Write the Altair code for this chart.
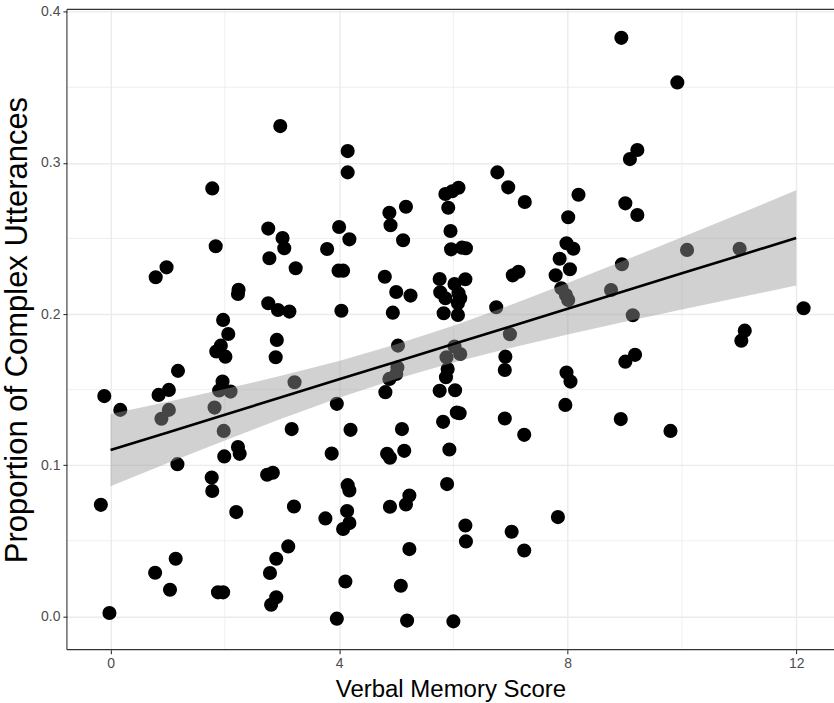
import altair as alt
import pandas as pd

# Jittered observations (verbal memory score, proportion of complex utterances)
xs = [2.97, 1.78, 2.76, 3.01, 3.04, 2.78, 3.24, 1.84, 0.98, 0.79, 2.24, 2.23, 2.76, 2.93, 3.13, 1.97,
      4.15, 4.15, 6.77, 6.96, 7.25, 5.86, 5.98, 6.09, 5.91, 5.17, 4.88, 4.90, 5.12, 5.95, 5.96, 6.15,
      6.22, 4.00, 4.18, 3.79, 3.99, 4.07, 4.04, 4.80, 5.00, 5.25, 4.94, 5.76, 6.02, 6.21, 5.77, 5.86,
      6.09, 6.12, 6.08, 5.83, 6.08, 6.75, 7.04, 7.14, 7.86, 7.79, 8.94, 9.92, 9.22, 9.09, 8.19, 9.01,
      9.22, 8.01, 7.98, 8.10, 8.04, 8.95, 7.89, 7.97, 8.01, 8.76, 10.09, 11.01, 9.14, 12.13, 11.10, 11.04,
      7.98, 8.05, 9.18, 9.01, 7.96, 8.93, 9.80, 7.83, 6.99, 5.03, 6.02, 6.12, 5.88, 5.02, 5.00, 4.88,
      5.90, 5.87, 6.91, 6.90, 4.81, 5.76, 6.03, 3.96, 6.06, 6.11, 5.82, 6.90, 7.24, 4.20, 5.10, 3.87,
      4.84, 4.89, 5.14, 5.93, 4.15, 4.18, 5.89, 3.76, 4.14, 4.18, 4.07, 4.89, 5.17, 5.23, 6.21, 6.22,
      7.02, 7.24, 5.23, 4.11, 5.08, 3.96, 5.19, 6.00, 2.06, 1.93, 1.85, 2.01, 2.91, 2.89, 1.18, 0.84,
      1.02, -0.11, 0.17, 1.02, 0.89, 1.96, 1.90, 2.10, 1.82, 1.98, 3.22, 3.17, 2.23, 2.26, 1.99, 1.17,
      2.74, 2.84, 1.77, 1.78, -0.17, 2.20, 3.21, 3.11, 2.90, 2.79, 2.90, 2.81, 1.14, 0.78, 1.04, 1.88,
      1.97, -0.02]
ys = [0.3243, 0.2831, 0.2565, 0.2503, 0.2435, 0.2369, 0.2303, 0.2448, 0.2309, 0.2243, 0.2161, 0.2133, 0.2071, 0.2027, 0.2016, 0.1961,
      0.3078, 0.2937, 0.2937, 0.2838, 0.2741, 0.2794, 0.2812, 0.2835, 0.2703, 0.2710, 0.2670, 0.2587, 0.2488, 0.2549, 0.2428, 0.2439,
      0.2435, 0.2576, 0.2494, 0.2430, 0.2287, 0.2287, 0.2022, 0.2247, 0.2146, 0.2122, 0.2009, 0.2232, 0.2199, 0.2230, 0.2144, 0.2104,
      0.2137, 0.2104, 0.2071, 0.2005, 0.1994, 0.2045, 0.2256, 0.2280, 0.2366, 0.2256, 0.3827, 0.3532, 0.3085, 0.3025, 0.2789, 0.2732,
      0.2655, 0.2640, 0.2468, 0.2432, 0.2296, 0.2329, 0.2170, 0.2126, 0.2093, 0.2159, 0.2424, 0.2432, 0.1992, 0.2038, 0.1890, 0.1824,
      0.1613, 0.1553, 0.1730, 0.1685, 0.1399, 0.1305, 0.1227, 0.0657, 0.1866, 0.1791, 0.1785, 0.1736, 0.1714, 0.1646, 0.1604, 0.1571,
      0.1637, 0.1582, 0.1718, 0.1630, 0.1483, 0.1492, 0.1496, 0.1406, 0.1348, 0.1344, 0.1287, 0.1309, 0.1201, 0.1234, 0.1239, 0.1077,
      0.1075, 0.1049, 0.1095, 0.1104, 0.0868, 0.0833, 0.0875, 0.0648, 0.0697, 0.0617, 0.0578, 0.0725, 0.0740, 0.0800, 0.0601, 0.0496,
      0.0560, 0.0436, 0.0445, 0.0231, 0.0203, -0.0015, -0.0028, -0.0033, 0.1868, 0.1791, 0.1752, 0.1718, 0.1829, 0.1714, 0.1624, 0.1465,
      0.1498, 0.1457, 0.1366, 0.1366, 0.1307, 0.1553, 0.1494, 0.1487, 0.1381, 0.1227, 0.1549, 0.1239, 0.1120, 0.1075, 0.1058, 0.1007,
      0.0937, 0.0950, 0.0919, 0.0829, 0.0738, 0.0690, 0.0727, 0.0463, 0.0381, 0.0287, 0.0126, 0.0077, 0.0381, 0.0289, 0.0176, 0.0159,
      0.0159, 0.0022]

# Fitted line and confidence band
fit_x = [0, 1, 2, 3, 4, 5, 6, 7, 8, 9, 10, 11, 12]
fit_y = [0.1100, 0.1217, 0.1334, 0.1451, 0.1568, 0.1685, 0.1801, 0.1918, 0.2035, 0.2152, 0.2269, 0.2386, 0.2503]
band_lo = [0.0861, 0.1014, 0.1164, 0.1309, 0.1446, 0.1570, 0.1679, 0.1776, 0.1865, 0.1949, 0.2030, 0.2110, 0.2188]
band_hi = [0.1339, 0.1420, 0.1504, 0.1593, 0.1690, 0.1800, 0.1923, 0.2060, 0.2205, 0.2355, 0.2508, 0.2662, 0.2818]

x_major = [0, 4, 8, 12]
x_minor = [2, 6, 10]
y_major = [0.0, 0.1, 0.2, 0.3, 0.4]
y_minor = [0.05, 0.15, 0.25, 0.35]

X_DOMAIN = [-0.764, 12.662]
Y_DOMAIN = [-0.022, 0.4015]

pts = pd.DataFrame({"x": xs, "y": ys})
fit = pd.DataFrame({"x": fit_x, "y": fit_y, "lo": band_lo, "hi": band_hi})

FONT = "Liberation Sans"
GRID = "#EBEBEB"
BORDER = "#333333"
W, H = 768, 641

xscale = alt.Scale(domain=X_DOMAIN, nice=False, zero=False)
yscale = alt.Scale(domain=Y_DOMAIN, nice=False, zero=False)

xaxis = alt.Axis(values=x_major, title="Verbal Memory Score", grid=True, gridColor=GRID, gridWidth=1.4,
                 domain=False, ticks=True, tickColor=BORDER, tickSize=4, tickWidth=1.1,
                 labelColor="#4D4D4D", labelFont=FONT, labelFontSize=14, labelPadding=3,
                 titleFont=FONT, titleFontSize=24, titleFontWeight="normal", titleColor="#000000",
                 titleBaseline="alphabetic", titleY=47)
yaxis = alt.Axis(values=y_major, format=".1f", title="Proportion of Complex Utterances", grid=True,
                 gridColor=GRID, gridWidth=1.4, domain=False, ticks=True, tickColor=BORDER,
                 tickSize=4, tickWidth=1.1, labelColor="#4D4D4D", labelFont=FONT, labelFontSize=14,
                 labelPadding=3, titleFont=FONT, titleFontSize=31, titleFontWeight="normal",
                 titleColor="#000000", titleX=-49, titleBaseline="middle")

minor_v = alt.Chart(pd.DataFrame({"x": x_minor})).mark_rule(color=GRID, strokeWidth=0.8).encode(
    x=alt.X("x:Q", scale=xscale, axis=xaxis))
minor_h = alt.Chart(pd.DataFrame({"y": y_minor})).mark_rule(color=GRID, strokeWidth=0.8).encode(
    y=alt.Y("y:Q", scale=yscale, axis=yaxis))

points = alt.Chart(pts).mark_circle(size=200, color="#000000", opacity=1, clip=True).encode(
    x=alt.X("x:Q", scale=xscale, axis=xaxis),
    y=alt.Y("y:Q", scale=yscale, axis=yaxis))

band = alt.Chart(fit).mark_area(color="#999999", opacity=0.45).encode(
    x=alt.X("x:Q", scale=xscale, axis=xaxis),
    y=alt.Y("lo:Q", scale=yscale, axis=yaxis),
    y2="hi:Q")

line = alt.Chart(fit).mark_line(color="#000000", strokeWidth=2.6).encode(
    x=alt.X("x:Q", scale=xscale, axis=xaxis),
    y=alt.Y("y:Q", scale=yscale, axis=yaxis))

# Panel border: top, bottom and left (the right side is cropped off in the reference)
border_top = alt.Chart().mark_rule(color=BORDER, strokeWidth=1.1).encode(
    x=alt.value(0), x2=alt.value(W), y=alt.value(0))
border_bottom = alt.Chart().mark_rule(color=BORDER, strokeWidth=1.1).encode(
    x=alt.value(0), x2=alt.value(W), y=alt.value(H))
border_left = alt.Chart().mark_rule(color=BORDER, strokeWidth=1.1).encode(
    x=alt.value(0), y=alt.value(0), y2=alt.value(H))

chart = alt.layer(minor_v, minor_h, points, band, line,
                  border_top, border_bottom, border_left).properties(
    width=W, height=H,
    autosize=alt.AutoSizeParams(type="none"),
    padding={"left": 67, "top": 9, "right": 0, "bottom": 53},
    background="#FFFFFF",
).configure_view(strokeOpacity=0)

chart.save("out.html", embed_options={"renderer": "svg", "actions": False})
